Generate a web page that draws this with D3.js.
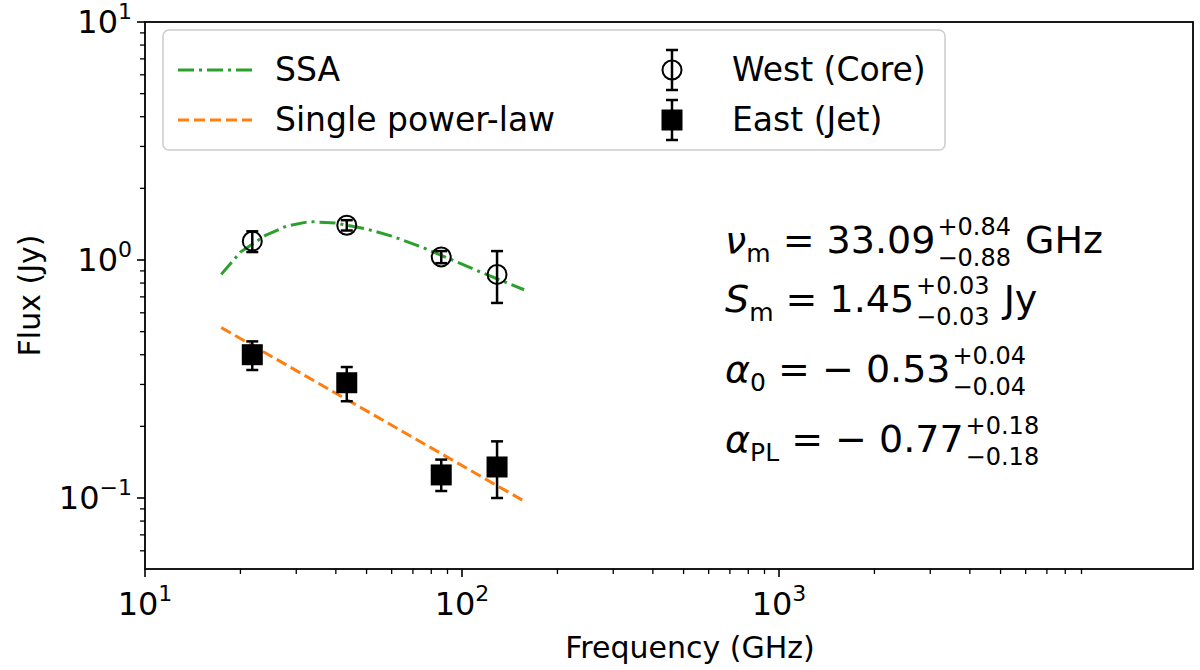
<!DOCTYPE html><html><head><meta charset="utf-8">
<script src="https://cdn.jsdelivr.net/npm/d3@7"></script>
<style>body{margin:0;background:#fff}text{font-family:"DejaVu Sans",sans-serif}</style></head>
<body><svg id="c" width="1200" height="670"></svg><script>
const westFreq=[21.8,43.3,86,129], westFlux=[1.2,1.4,1.03,0.87], westErrLo=[0.12,0.07,0.06,0.21], westErrHi=[0.12,0.07,0.06,0.22];
const eastFreq=[21.8,43.3,86,129], eastFlux=[0.40,0.305,0.125,0.135], eastErrLo=[0.055,0.05,0.018,0.035], eastErrHi=[0.055,0.05,0.02,0.038];
const ssaFreq=[17.4,20,24,28,33,40,50,60,75,90,110,130,157], ssaFlux=[0.87,1.08,1.27,1.39,1.45,1.43,1.35,1.26,1.13,1.02,0.91,0.83,0.75];
const plFreq=[17.4,157], plFlux=[0.52,0.097];
const xTicks=[10,100,1000], yTicks=[0.1,1,10];
const svg=d3.select("#c");
const L=145,R=1193,T=22,B=569;
const x=d3.scaleLog().domain([10,Math.pow(10,1+(R-L)/317)]).range([L,R]);
const y=d3.scaleLog().domain([Math.pow(10,-1-(B-498)/238),10]).range([B,T]);
const g=svg.append("g");
const minorX=[];for(let e=1;e<=3;e++)for(let k=2;k<=9;k++)minorX.push(k*Math.pow(10,e));
const minorY=[];for(let e=-2;e<=0;e++)for(let k=2;k<=9;k++){const v=k*Math.pow(10,e);if(v>=y.domain()[0])minorY.push(v);}
minorX.forEach(v=>g.append("line").attr("x1",x(v)).attr("x2",x(v)).attr("y1",B).attr("y2",B+5).attr("stroke","#000").attr("stroke-width",1.3));
minorY.forEach(v=>g.append("line").attr("y1",y(v)).attr("y2",y(v)).attr("x1",L).attr("x2",L-5).attr("stroke","#000").attr("stroke-width",1.3));
xTicks.forEach(v=>{g.append("line").attr("x1",x(v)).attr("x2",x(v)).attr("y1",B).attr("y2",B+8).attr("stroke","#000").attr("stroke-width",1.6);
 const t=g.append("text").attr("x",x(v)).attr("y",B+46).attr("text-anchor","middle").attr("font-size",32);
 t.append("tspan").text("10");t.append("tspan").attr("dy",-14).attr("font-size",22).text(Math.round(Math.log10(v)));});
yTicks.forEach(v=>{g.append("line").attr("y1",y(v)).attr("y2",y(v)).attr("x1",L).attr("x2",L-8).attr("stroke","#000").attr("stroke-width",1.6);
 const e=Math.round(Math.log10(v));const t=g.append("text").attr("x",L-13).attr("y",y(v)+11).attr("text-anchor","end").attr("font-size",32);
 t.append("tspan").text("10");t.append("tspan").attr("dy",-14).attr("font-size",22).text(e<0?"\u22121":e);});
g.append("rect").attr("x",L).attr("y",T).attr("width",R-L).attr("height",B-T).attr("fill","none").attr("stroke","#000").attr("stroke-width",1.8);
g.append("text").attr("x",690).attr("y",658).attr("text-anchor","middle").attr("font-size",30).text("Frequency (GHz)");
g.append("text").attr("transform",`translate(40,${(T+B)/2}) rotate(-90)`).attr("text-anchor","middle").attr("font-size",30).text("Flux (Jy)");
const line=d3.line().x(d=>x(d[0])).y(d=>y(d[1]));
g.append("path").attr("d",line(ssaFreq.map((f,i)=>[f,ssaFlux[i]]))).attr("fill","none").attr("stroke","#2ca02c").attr("stroke-width",3).attr("stroke-dasharray","16,5,3,5");
g.append("path").attr("d",line(plFreq.map((f,i)=>[f,plFlux[i]]))).attr("fill","none").attr("stroke","#ff7f0e").attr("stroke-width",3).attr("stroke-dasharray","11,5");
function err(fr,fl,lo,hi){fr.forEach((f,i)=>{const X=x(f);g.append("line").attr("x1",X).attr("x2",X).attr("y1",y(fl[i]-lo[i])).attr("y2",y(fl[i]+hi[i])).attr("stroke","#000").attr("stroke-width",2.5);
 [fl[i]-lo[i],fl[i]+hi[i]].forEach(v=>g.append("line").attr("x1",X-6).attr("x2",X+6).attr("y1",y(v)).attr("y2",y(v)).attr("stroke","#000").attr("stroke-width",2.5));});}
err(westFreq,westFlux,westErrLo,westErrHi);err(eastFreq,eastFlux,eastErrLo,eastErrHi);
westFreq.forEach((f,i)=>g.append("circle").attr("cx",x(f)).attr("cy",y(westFlux[i])).attr("r",9.5).attr("fill","none").attr("stroke","#000").attr("stroke-width",2));
eastFreq.forEach((f,i)=>g.append("rect").attr("x",x(f)-10.5).attr("y",y(eastFlux[i])-10.5).attr("width",21).attr("height",21).attr("fill","#000"));
g.append("rect").attr("x",163).attr("y",30).attr("width",782).attr("height",120).attr("rx",6).attr("fill","#fff").attr("stroke","#ccc").attr("stroke-width",1.5);
g.append("line").attr("x1",178).attr("x2",252).attr("y1",70).attr("y2",70).attr("stroke","#2ca02c").attr("stroke-width",3).attr("stroke-dasharray","16,5,3,5");
g.append("line").attr("x1",178).attr("x2",252).attr("y1",120).attr("y2",120).attr("stroke","#ff7f0e").attr("stroke-width",3).attr("stroke-dasharray","11,5");
g.append("text").attr("x",275).attr("y",81).attr("font-size",33).text("SSA");
g.append("text").attr("x",275).attr("y",131).attr("font-size",33).text("Single power-law");
g.append("line").attr("x1",672).attr("x2",672).attr("y1",50).attr("y2",90).attr("stroke","#000").attr("stroke-width",2.5);
[50,90].forEach(v=>g.append("line").attr("x1",666).attr("x2",678).attr("y1",v).attr("y2",v).attr("stroke","#000").attr("stroke-width",2.5));
g.append("circle").attr("cx",672).attr("cy",70).attr("r",9.5).attr("fill","none").attr("stroke","#000").attr("stroke-width",2);
g.append("line").attr("x1",672).attr("x2",672).attr("y1",100).attr("y2",140).attr("stroke","#000").attr("stroke-width",2.5);
[100,140].forEach(v=>g.append("line").attr("x1",666).attr("x2",678).attr("y1",v).attr("y2",v).attr("stroke","#000").attr("stroke-width",2.5));
g.append("rect").attr("x",661.5).attr("y",109.5).attr("width",21).attr("height",21).attr("fill","#000");
g.append("text").attr("x",732).attr("y",81).attr("font-size",33).text("West (Core)");
g.append("text").attr("x",732).attr("y",131).attr("font-size",33).text("East (Jet)");
function ann(yb,sym,sub,val,up,dn,unit){const t=g.append("text").attr("x",725).attr("y",yb).attr("font-size",38);
 t.append("tspan").attr("font-style","italic").text(sym);
 t.append("tspan").attr("font-size",25).attr("dy",9).text(sub);
 t.append("tspan").attr("dy",-9).text(" = "+val);
 const xs=t.node().getComputedTextLength()+725;
 g.append("text").attr("x",xs+2).attr("y",yb-18).attr("font-size",24).text(up);
 const w=g.append("text").attr("x",xs+2).attr("y",yb+13).attr("font-size",24).text(dn);
 if(unit)g.append("text").attr("x",xs+w.node().getComputedTextLength()+16).attr("y",yb).attr("font-size",38).text(unit);}
ann(253,"\u03bd","m","33.09","+0.84","\u22120.88","GHz");
ann(312,"S","m","1.45","+0.03","\u22120.03","Jy");
ann(382,"\u03b1","0","\u2212 0.53","+0.04","\u22120.04","");
ann(452,"\u03b1","PL","\u2212 0.77","+0.18","\u22120.18","");
</script></body></html>
